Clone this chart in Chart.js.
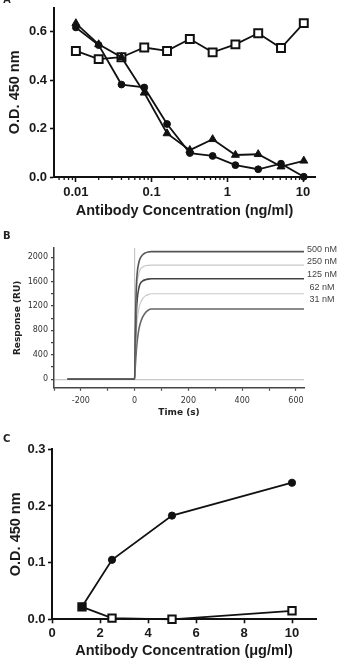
<!DOCTYPE html>
<html>
<head>
<meta charset="utf-8">
<script src="https://cdn.jsdelivr.net/npm/chart.js"></script>
<style>
  body { margin: 0; background: #fff; }
  #wrap { position: relative; width: 340px; height: 662px; overflow: hidden; }
  canvas { position: absolute; left: 0; }
</style>
</head>
<body>
<div id="wrap">
  <canvas id="panelA" width="340" height="222" style="top:0px"></canvas>
  <canvas id="panelB" width="340" height="200" style="top:225px"></canvas>
  <canvas id="panelC" width="340" height="232" style="top:430px"></canvas>
</div>
<script>
// ---- panel A: ELISA, log concentration
var concA = [0.01, 0.02, 0.04, 0.08, 0.16, 0.32, 0.64, 1.28, 2.56, 5.12, 10.24];
var squaresA = [0.521, 0.487, 0.495, 0.535, 0.521, 0.570, 0.515, 0.548, 0.594, 0.533, 0.636];
var circlesA = [0.618, 0.545, 0.382, 0.370, 0.219, 0.099, 0.087, 0.049, 0.032, 0.055, 0.001];
var trianglesA = [0.635, 0.548, 0.495, 0.348, 0.180, 0.111, 0.156, 0.091, 0.094, 0.043, 0.067];
var majorTicksA = [0.01, 0.1, 1, 10];
var minorTicksA = [0.006, 0.007, 0.008, 0.009,
                   0.02, 0.03, 0.04, 0.05, 0.06, 0.07, 0.08, 0.09,
                   0.2, 0.3, 0.4, 0.5, 0.6, 0.7, 0.8, 0.9,
                   2, 3, 4, 5, 6, 7, 8, 9];

// ---- panel B: SPR sensorgram
var sprTime = [-250, 0, 2, 4, 6, 10, 15, 20, 30, 40, 50, 62, 630];
var resp500 = [0, 0, 700, 1150, 1500, 1760, 1900, 1975, 2040, 2070, 2085, 2090, 2090];
var resp250 = [0, 0, 600, 1000, 1300, 1580, 1720, 1790, 1840, 1860, 1866, 1870, 1870];
var resp125 = [0, 0, 450, 780, 1050, 1330, 1480, 1560, 1610, 1630, 1640, 1645, 1645];
var resp62 = [0, 0, 320, 560, 760, 980, 1140, 1230, 1320, 1365, 1385, 1400, 1400];
var resp31 = [0, 0, 170, 320, 450, 640, 800, 900, 1020, 1090, 1130, 1150, 1150];
var sprLabels = ['500 nM', '250 nM', '125 nM', '62 nM', '31 nM'];
var sprColors = ['#555', '#c8c8c8', '#444', '#c8c8c8', '#666'];
var injectTime = 0;

// ---- panel C: ELISA, linear concentration
var concC = [1.25, 2.5, 5, 10];
var circlesC = [0.022, 0.105, 0.183, 0.241];
var squaresC = [0.022, 0.002, 0.000, 0.015];

var ink = '#111';
var boldTick = { family: 'Liberation Sans', size: 13, weight: 'bold' };
var boldTitle = { family: 'Liberation Sans', size: 14.5, weight: 'bold', lineHeight: 1.2 };

function xy(xs, ys) {
   return xs.map(function (x, i) { return { x: x, y: ys[i] }; });
}

// fix the size of the axis boxes so the plot area sits where it should
function fixY(w) {
   return function (s) { s.width = w; s.paddingTop = 0; s.paddingBottom = 0; };
}
function fixX(h) {
   return function (s) { s.height = h; s.paddingLeft = 0; s.paddingRight = 0; };
}

function minorTicks(axis, values, len) {
   return {
      id: 'minor_' + axis,
      afterDraw: function (chart) {
         var s = chart.scales[axis];
         var ctx = chart.ctx;
         ctx.save();
         ctx.strokeStyle = ink;
         ctx.lineWidth = 1.3;
         ctx.beginPath();
         values.forEach(function (v) {
            var p = s.getPixelForValue(v);
            ctx.moveTo(p, s.top);
            ctx.lineTo(p, s.top + len);
         });
         ctx.stroke();
         ctx.restore();
      },
   };
}

function panelLetter(letter, x, y, font) {
   return {
      id: 'letter_' + letter,
      afterDraw: function (chart) {
         var ctx = chart.ctx;
         ctx.save();
         ctx.fillStyle = '#222';
         ctx.font = font;
         ctx.textBaseline = 'alphabetic';
         ctx.fillText(letter, x, y);
         ctx.restore();
      },
   };
}

function odPoints(style, r, fill) {
   return {
      borderColor: ink,
      borderWidth: 1.8,
      pointStyle: style,
      pointRadius: r,
      pointHoverRadius: r,
      pointBackgroundColor: fill,
      pointBorderColor: ink,
      pointBorderWidth: style === 'rect' ? 2 : 1,
      clip: false,
      tension: 0,
   };
}

// PANEL A
new Chart('panelA', {
   type: 'line',
   data: {
      datasets: [
         Object.assign({ data: xy(concA, circlesA) }, odPoints('circle', 3.4, ink)),
         Object.assign({ data: xy(concA, trianglesA) }, odPoints('triangle', 4.6, ink)),
         Object.assign({ data: xy(concA, squaresA) }, odPoints('rect', 5.6, '#fff')),
      ],
   },
   options: {
      responsive: false,
      animation: false,
      devicePixelRatio: 1,
      layout: { padding: { left: 0, top: 2, right: 25, bottom: 0 } },
      plugins: { legend: { display: false }, tooltip: { enabled: false } },
      scales: {
         x: {
            type: 'logarithmic',
            min: 0.00514,
            max: 14.4,
            afterFit: fixX(45),
            afterBuildTicks: function (s) {
               s.ticks = majorTicksA.map(function (v) { return { value: v, major: true }; });
            },
            ticks: {
               callback: function (v) { return String(v); },
               font: boldTick, color: '#1a1a1a', padding: 3, autoSkip: false, maxRotation: 0,
            },
            grid: { drawOnChartArea: false, tickLength: 5, tickWidth: 1.6, tickColor: ink },
            border: { color: ink, width: 2 },
            title: {
               display: true, text: 'Antibody Concentration (ng/ml)',
               font: boldTitle, color: '#1a1a1a', padding: { top: 0, bottom: 2 },
            },
         },
         y: {
            min: 0,
            max: 0.7,
            afterFit: fixY(54),
            ticks: {
               stepSize: 0.2, includeBounds: false,
               callback: function (v) { return v.toFixed(1); },
               font: boldTick, color: '#1a1a1a', padding: 3,
            },
            grid: { drawOnChartArea: false, tickLength: 4, tickWidth: 1.6, tickColor: ink },
            border: { color: ink, width: 2 },
            title: {
               display: true, text: 'O.D. 450 nm',
               font: boldTitle, color: '#1a1a1a', padding: { top: 6, bottom: 0 },
            },
         },
      },
   },
   plugins: [minorTicks('x', minorTicksA, 3), panelLetter('A', 3, 3, 'bold 11px "Liberation Sans"')],
});

// PANEL B
var sprSets = [resp500, resp250, resp125, resp62, resp31].map(function (r, i) {
   return {
      data: xy(sprTime, r),
      borderColor: sprColors[i],
      borderWidth: sprColors[i] === '#c8c8c8' ? 1.2 : 1.6,
      pointRadius: 0,
      cubicInterpolationMode: 'monotone',
   };
});
sprSets.push({
   data: [{ x: injectTime, y: 0 }, { x: injectTime, y: 2150 }],
   borderColor: '#bdbdbd',
   borderWidth: 1,
   pointRadius: 0,
});

var sprLabelPlugin = {
   id: 'sprLabels',
   afterDraw: function (chart) {
      var ctx = chart.ctx;
      var y0 = chart.scales.y.getPixelForValue(resp500[resp500.length - 1]) - 2.5;
      ctx.save();
      ctx.fillStyle = '#444';
      ctx.font = '9px "Liberation Sans"';
      ctx.textAlign = 'center';
      ctx.textBaseline = 'middle';
      sprLabels.forEach(function (t, i) {
         ctx.fillText(t, 322, y0 + i * 12.7);
      });
      ctx.restore();
   },
};

new Chart('panelB', {
   type: 'line',
   data: { datasets: sprSets },
   options: {
      responsive: false,
      animation: false,
      devicePixelRatio: 1,
      layout: { padding: { left: 0, top: 23, right: 36, bottom: 0 } },
      plugins: { legend: { display: false }, tooltip: { enabled: false } },
      scales: {
         x: {
            type: 'linear',
            min: -300,
            max: 630,
            afterFit: fixX(37.3),
            ticks: {
               stepSize: 100, includeBounds: false,
               callback: function (v) { return v % 200 === 0 ? String(v) : ''; },
               font: { family: 'DejaVu Sans', size: 8 }, color: '#333', padding: 5.5,
               autoSkip: false, maxRotation: 0,
            },
            grid: { drawOnChartArea: false, tickLength: 3, tickWidth: 1.2, tickColor: '#444' },
            border: { color: '#444', width: 1.5 },
            title: {
               display: true, text: 'Time (s)',
               font: { family: 'DejaVu Sans', size: 9, weight: 'bold', lineHeight: 1.2 },
               color: '#222', padding: { top: 0, bottom: 6.6 },
            },
         },
         y: {
            min: -140,
            max: 2150,
            afterFit: fixY(54),
            ticks: {
               stepSize: 200, includeBounds: false,
               callback: function (v) { return v % 400 === 0 ? String(v) : ''; },
               font: { family: 'DejaVu Sans', size: 8 }, color: '#333', padding: 3,
            },
            grid: {
               color: function (c) { return c.tick && c.tick.value === 0 ? '#c8c8c8' : 'rgba(0,0,0,0)'; },
               lineWidth: 1.3,
               tickLength: 3, tickWidth: 1.2, tickColor: '#444',
            },
            border: { color: '#444', width: 1.5 },
            title: {
               display: true, text: 'Response (RU)',
               font: { family: 'DejaVu Sans', size: 9, weight: 'bold', lineHeight: 1.2 },
               color: '#222', padding: { top: 12, bottom: 0 },
            },
         },
      },
   },
   plugins: [sprLabelPlugin, panelLetter('B', 3, 14, 'bold 10px "DejaVu Sans"')],
});

// PANEL C
new Chart('panelC', {
   type: 'line',
   data: {
      datasets: [
         Object.assign({ data: xy(concC, circlesC) }, odPoints('circle', 3.6, ink)),
         Object.assign({ data: xy(concC, squaresC) }, odPoints('rect', 5.2, '#fff')),
      ],
   },
   options: {
      responsive: false,
      animation: false,
      devicePixelRatio: 1,
      layout: { padding: { left: 0, top: 19.3, right: 24, bottom: 0 } },
      plugins: { legend: { display: false }, tooltip: { enabled: false } },
      scales: {
         x: {
            type: 'linear',
            min: 0,
            max: 11,
            afterFit: fixX(42.7),
            ticks: {
               stepSize: 2, includeBounds: false,
               font: boldTick, color: '#1a1a1a', padding: 2, maxRotation: 0,
            },
            grid: { drawOnChartArea: false, tickLength: 4, tickWidth: 1.6, tickColor: ink },
            border: { color: ink, width: 2 },
            title: {
               display: true, text: 'Antibody Concentration (\u03bcg/ml)',
               font: boldTitle, color: '#1a1a1a', padding: { top: 0, bottom: 2.6 },
            },
         },
         y: {
            min: 0,
            max: 0.3,
            afterFit: fixY(52),
            ticks: {
               stepSize: 0.1,
               callback: function (v) { return v.toFixed(1); },
               font: boldTick, color: '#1a1a1a', padding: 2.5,
            },
            grid: { drawOnChartArea: false, tickLength: 4, tickWidth: 1.6, tickColor: ink },
            border: { color: ink, width: 2 },
            title: {
               display: true, text: 'O.D. 450 nm',
               font: boldTitle, color: '#1a1a1a', padding: { top: 7.3, bottom: 0 },
            },
         },
      },
   },
   plugins: [panelLetter('C', 3, 12, 'bold 10px "DejaVu Sans"')],
});
</script>
</body>
</html>
